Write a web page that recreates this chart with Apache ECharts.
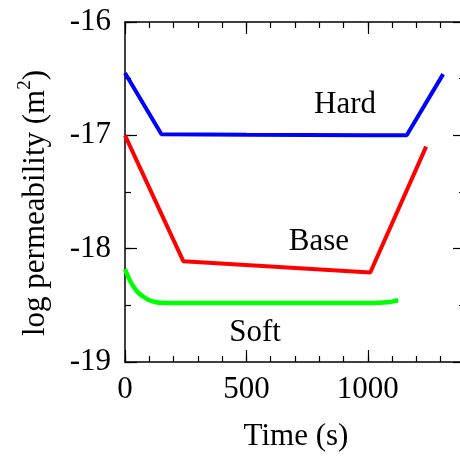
<!DOCTYPE html>
<html>
<head>
<meta charset="utf-8">
<script src="https://cdn.jsdelivr.net/npm/echarts@6/dist/echarts.min.js"></script>
<style>html,body{margin:0;padding:0;background:#fff;}#c{width:460px;height:457px;}</style>
</head>
<body>
<div id="c"></div>
<script>
// Data
var hardData = [[0,-16.45],[150,-16.99],[500,-16.995],[1000,-17.0],[1160,-17.0],[1310,-16.46]];
var baseData = [[0,-17.0],[240,-18.11],[1010,-18.21],[1240,-17.10]];
var softData = [[0,-18.18],[20,-18.28],[40,-18.35],[60,-18.40],[80,-18.43],[100,-18.455],[125,-18.47],[150,-18.478],[200,-18.48],[600,-18.48],[1000,-18.48],[1050,-18.478],[1080,-18.473],[1100,-18.467],[1125,-18.455]];
var seriesNames = ['Hard','Base','Soft'];
var xLabelValues = [0,500,1000];
var yLabelValues = [-19,-18,-17,-16];

var FONT = 'Liberation Serif';
var FS = 31;
var chart = echarts.init(document.getElementById('c'), null, {renderer:'canvas'});

function xAx(pos, interval, len, labels, line) {
  return {
    type:'value', position:pos, min:0, max:1400, interval:interval,
    axisLine:{show:line, onZero:false, lineStyle:{color:'#000', width:1.5}},
    axisTick:{show:true, inside:true, length:len, lineStyle:{color:'#000', width:1.2}},
    axisLabel:{show:labels, color:'#000', fontFamily:FONT, fontSize:FS, margin:12,
      formatter:function(v){ return xLabelValues.indexOf(v) >= 0 ? String(v) : ''; }},
    splitLine:{show:false}
  };
}
function yAx(pos, interval, len, labels, line) {
  return {
    type:'value', position:pos, min:-19, max:-16, interval:interval,
    axisLine:{show:line, onZero:false, lineStyle:{color:'#000', width:1.5}},
    axisTick:{show:true, inside:true, length:len, lineStyle:{color:'#000', width:1.2}},
    axisLabel:{show:labels, color:'#000', fontFamily:FONT, fontSize:FS, margin:14,
      formatter:function(v){ return yLabelValues.indexOf(v) >= 0 ? String(v) : ''; }},
    splitLine:{show:false}
  };
}

var txt = FS + 'px "Liberation Serif"';
var option = {
  backgroundColor:'#fff',
  animation:false,
  grid:{left:125, top:22, width:340, height:340, containLabel:false, outerBoundsMode:'none'},
  xAxis:[
    xAx('bottom', 500, 12, true, true),
    xAx('bottom', 100, 6, false, false),
    xAx('top', 500, 12, false, true),
    xAx('top', 100, 6, false, false)
  ],
  yAxis:[
    yAx('left', 1, 12, true, true),
    yAx('left', 0.5, 6, false, false),
    yAx('right', 1, 12, false, true),
    yAx('right', 0.5, 6, false, false)
  ],
  series:[
    {name:seriesNames[0], type:'line', data:hardData, showSymbol:false, lineStyle:{color:'#0000ff', width:4}, itemStyle:{color:'#0000ff'}},
    {name:seriesNames[1], type:'line', data:baseData, showSymbol:false, lineStyle:{color:'#ff0000', width:4}, itemStyle:{color:'#ff0000'}},
    {name:seriesNames[2], type:'line', data:softData, showSymbol:false, smooth:0.3, lineStyle:{color:'#00ff00', width:4.5}, itemStyle:{color:'#00ff00'}}
  ],
  graphic:[
    {type:'text', x:345, y:105, style:{text:seriesNames[0], font:txt, fill:'#000', align:'center', verticalAlign:'middle'}},
    {type:'text', x:319, y:242, style:{text:seriesNames[1], font:txt, fill:'#000', align:'center', verticalAlign:'middle'}},
    {type:'text', x:255, y:333, style:{text:seriesNames[2], font:txt, fill:'#000', align:'center', verticalAlign:'middle'}},
    {type:'text', x:296, y:437, style:{text:'Time (s)', font:txt, fill:'#000', align:'center', verticalAlign:'middle'}},
    {type:'text', x:36, y:203, rotation:Math.PI/2, style:{
      text:'{a|log permeability (m}{b|2}{a|)}', align:'center', verticalAlign:'middle', fill:'#000',
      rich:{
        a:{fontFamily:FONT, fontSize:FS, lineHeight:40, fill:'#000', verticalAlign:'middle'},
        b:{fontFamily:FONT, fontSize:19, lineHeight:14, fill:'#000', verticalAlign:'top'}
      }}}
  ]
};
chart.setOption(option);
</script>
</body>
</html>
